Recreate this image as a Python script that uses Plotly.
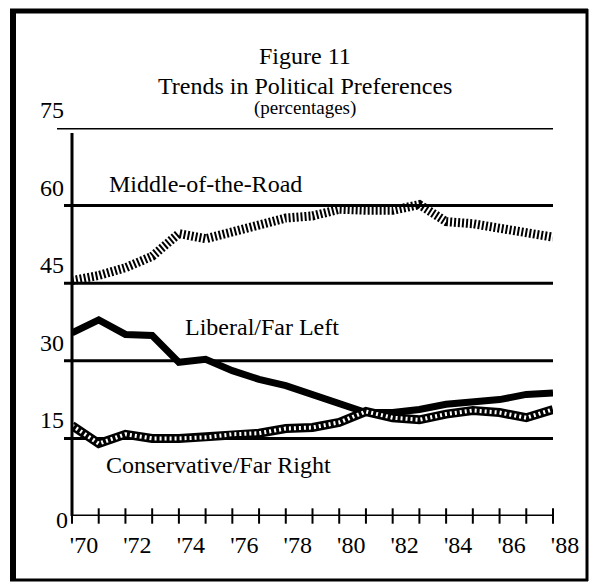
import plotly.graph_objects as go

# ---- data ----
YEARS = list(range(1970, 1989))
MIDDLE = [45.5, 46.5, 48.0, 50.2, 54.6, 53.6, 54.9, 56.2, 57.6, 58.0,
          59.3, 59.1, 59.1, 60.2, 56.9, 56.5, 55.7, 55.0, 53.9]
LIBERAL = [35.4, 37.9, 35.1, 34.9, 29.7, 30.3, 28.1, 26.4, 25.2, 23.5,
           21.8, 20.0, 20.0, 20.6, 21.6, 22.1, 22.5, 23.5, 23.8]
CONSERV = [17.5, 14.0, 15.8, 15.0, 15.0, 15.2, 15.8, 16.0, 16.9, 17.1,
           18.1, 20.2, 19.0, 18.6, 19.7, 20.4, 20.0, 19.0, 20.6]

X_TICKS = [1970, 1972, 1974, 1976, 1978, 1980, 1982, 1984, 1986, 1988]
X_LABELS = ["'70", "'72", "'74", "'76", "'78", "'80", "'82", "'84", "'86", "'88"]
Y_TICKS = [0, 15, 30, 45, 60, 75]
Y_LABELS = ["0", "15", "30", "45", "60", "75"]

TITLE = ["Figure 11", "Trends in Political Preferences", "(percentages)"]
SERIES_NAMES = ["Middle-of-the-Road", "Liberal/Far Left", "Conservative/Far Right"]

# ---- page geometry (pixels) ----
W, H = 590, 585
L, R, T, B = 72, 553, 128, 516      # plot area edges
FONT = "Liberation Serif, Times New Roman, serif"
INK = "#000000"


def px(x):
    return (x - L) / (R - L)


def py(y):
    return (B - y) / (B - T)


fig = go.Figure()

# Middle-of-the-road: thick line broken into little vertical bars
fig.add_trace(go.Scatter(x=YEARS, y=MIDDLE, mode="lines",
    line=dict(color=INK, width=9, dash="2px,2px"), hoverinfo="skip"))
# Liberal: heavy solid line
fig.add_trace(go.Scatter(x=YEARS, y=LIBERAL, mode="lines",
    line=dict(color=INK, width=7), hoverinfo="skip"))
# Conservative: black band speckled with white
fig.add_trace(go.Scatter(x=YEARS, y=CONSERV, mode="lines",
    line=dict(color=INK, width=9), hoverinfo="skip"))
fig.add_trace(go.Scatter(x=YEARS, y=CONSERV, mode="lines",
    line=dict(color="#ffffff", width=4, dash="2px,3px"), hoverinfo="skip"))

# crossing tick marks on the year axis
fig.add_trace(go.Scatter(x=YEARS, y=[0] * len(YEARS), mode="markers",
    marker=dict(symbol="line-ns", size=11, line=dict(color=INK, width=2)),
    cliponaxis=False, hoverinfo="skip"))

shapes = []
# horizontal rules at each labelled value
for v in Y_TICKS[1:]:
    x0 = px(57) if v == Y_TICKS[-1] else px(64)
    shapes.append(dict(type="line", xref="paper", yref="y", x0=x0, x1=1,
                       y0=v, y1=v, line=dict(color=INK, width=3), layer="below"))
# axes
shapes.append(dict(type="line", xref="paper", yref="y", x0=0, x1=1, y0=0, y1=0,
                   line=dict(color=INK, width=3)))
shapes.append(dict(type="line", xref="paper", yref="paper", x0=0, x1=0,
                   y0=0, y1=py(133), line=dict(color=INK, width=3)))
# frame round the figure
shapes += [
    dict(type="line", xref="paper", yref="paper", x0=px(13), x1=px(13),
         y0=py(9), y1=py(581), line=dict(color=INK, width=6)),
    dict(type="line", xref="paper", yref="paper", x0=px(10), x1=px(588),
         y0=py(11), y1=py(11), line=dict(color=INK, width=5)),
    dict(type="line", xref="paper", yref="paper", x0=px(10), x1=px(588),
         y0=py(580), y1=py(580), line=dict(color=INK, width=3)),
    dict(type="line", xref="paper", yref="paper", x0=px(587), x1=px(587),
         y0=py(9), y1=py(581), line=dict(color=INK, width=3)),
]

ann = []
for txt, yy, sz in zip(TITLE, [56, 86, 108], [24, 24, 19]):
    ann.append(dict(text=txt, x=px(305), y=py(yy), xref="paper", yref="paper",
                    showarrow=False, xanchor="center", yanchor="middle",
                    font=dict(family=FONT, size=sz, color=INK)))
for txt, xx, yy in zip(SERIES_NAMES, [205, 262, 218], [184, 327, 465]):
    ann.append(dict(text=txt, x=px(xx), y=py(yy), xref="paper", yref="paper",
                    showarrow=False, xanchor="center", yanchor="middle",
                    font=dict(family=FONT, size=24, color=INK)))
# value labels sit above their rules (as in the original), except zero
for v, lab in zip(Y_TICKS, Y_LABELS):
    ann.append(dict(text=lab, x=px(66), y=v, xref="paper", yref="y",
                    showarrow=False, xanchor="right", yanchor="middle",
                    xshift=4 if v == 0 else 0, yshift=-4 if v == 0 else 18,
                    font=dict(family=FONT, size=24, color=INK)))

fig.update_layout(
    width=W, height=H, showlegend=False,
    paper_bgcolor="#ffffff", plot_bgcolor="#ffffff",
    margin=dict(l=L, r=W - R, t=T, b=H - B),
    font=dict(family=FONT, color=INK),
    xaxis=dict(range=[1970, 1988], showgrid=False, zeroline=False, showline=False,
               tickmode="array", tickvals=X_TICKS, ticktext=X_LABELS,
               ticks="", ticklabelshift=12, ticklabelstandoff=12,
               tickfont=dict(family=FONT, size=24, color=INK)),
    yaxis=dict(range=[0, 75], showgrid=False, zeroline=False, showline=False,
               showticklabels=False, ticks=""),
    shapes=shapes, annotations=ann,
)

# drop the browser's default body margin so the figure fills the window
fig.write_html("out.html", config={"displayModeBar": False},
               post_script="document.body.style.margin='0';")
